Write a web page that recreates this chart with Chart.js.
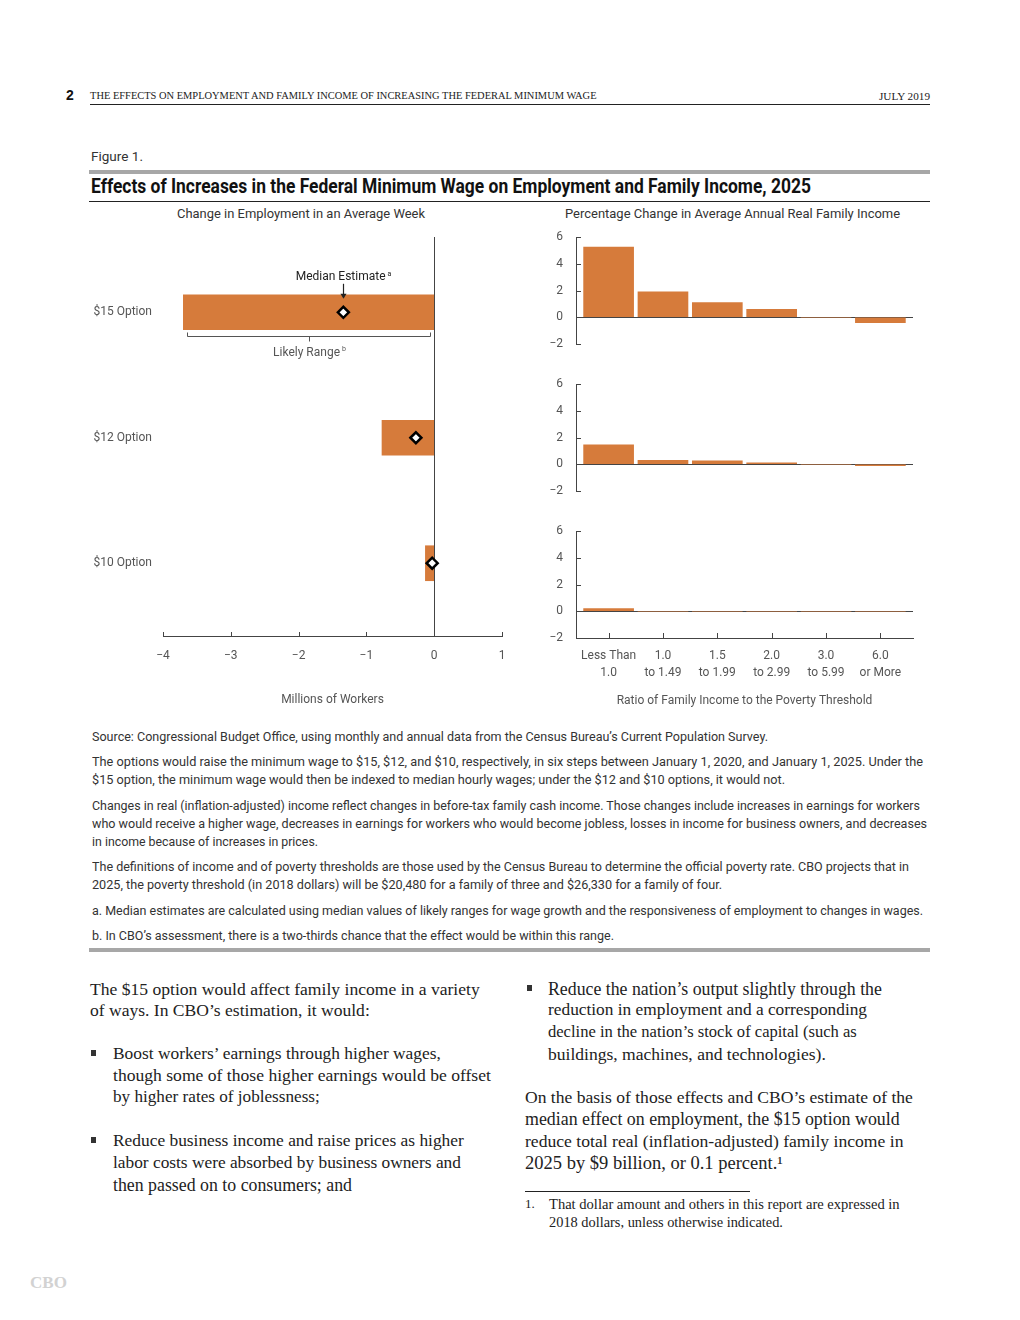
<!DOCTYPE html>
<html lang="en">
<head>
<meta charset="utf-8">
<title>Effects of Increases in the Federal Minimum Wage on Employment and Family Income, 2025</title>
<script src="https://cdn.jsdelivr.net/npm/chart.js@4.4.1/dist/chart.umd.min.js"></script>
<style>
  html, body { margin: 0; padding: 0; background: #fff; }
  body { position: relative; width: 1020px; height: 1320px; overflow: hidden; }
  .t { position: absolute; white-space: nowrap; }
  .bar { position: absolute; }
  canvas { position: absolute; }
  .pnum { font: bold 14px/18px 'Liberation Sans', Arial, sans-serif; color: #111; }
  .hdr { font: 10px/18px 'Liberation Serif', serif; color: #222; }
  .fig { font: 13px/18px 'Liberation Sans Narrow', Roboto, sans-serif; color: #333; }
  .ttl { font: bold 19.5px/24px 'Liberation Sans Narrow', Roboto, sans-serif; color: #111; }
  .sub { font: 12px/18px Roboto, sans-serif; color: #333; }
  .note { font: 12.5px/18px 'Liberation Sans Narrow', Roboto, sans-serif; color: #333; }
  .body { font: 16px/22px 'Liberation Serif', serif; color: #222; }
  .fn { font: 13px/18px 'Liberation Serif', serif; color: #222; }
  .logo { font: bold 18px/22px 'Liberation Serif', serif; color: #d2d2d2; }
</style>
</head>
<body>

<canvas id="empChart" width="440" height="490" style="left:80px;top:225px;width:440px;height:490px"></canvas>
<canvas id="inc15" width="400" height="125" style="left:530px;top:225px;width:400px;height:125px"></canvas>
<canvas id="inc12" width="400" height="125" style="left:530px;top:372px;width:400px;height:125px"></canvas>
<canvas id="inc10" width="400" height="200" style="left:530px;top:519px;width:400px;height:200px"></canvas>

<script>
// ---- data ----
const options = ['$15 Option', '$12 Option', '$10 Option'];
const rangeLow = [-3.7, -0.77, -0.13];     // likely range, millions of workers
const rangeHigh = [0, 0, 0];
const medianEstimate = [-1.34, -0.27, -0.03];
const empTicks = [-4, -3, -2, -1, 0, 1];

const incomeGroups = [['Less Than', '1.0'], ['1.0', 'to 1.49'], ['1.5', 'to 1.99'],
                      ['2.0', 'to 2.99'], ['3.0', 'to 5.99'], ['6.0', 'or More']];
const income15 = [5.25, 1.9, 1.1, 0.6, 0, -0.4];   // percent change
const income12 = [1.45, 0.3, 0.25, 0.1, 0, -0.1];
const income10 = [0.2, 0, 0, 0, 0, 0];
const incomeTicks = [-2, 0, 2, 4, 6];

const ORANGE = '#d67b3b';
const AXIS = '#444';
const TEXT = '#555';
const BAR_H = 35;

Chart.defaults.font.family = "Roboto, 'Liberation Sans', sans-serif";
Chart.defaults.font.size = 12;
Chart.defaults.color = TEXT;

function fmt(v) {
  return v < 0 ? '\u2212' + Math.abs(v) : String(v);
}

// keep the plot area exactly where layout.padding puts it
function noEdgePadding(s) {
  s.paddingTop = 0;
  s.paddingBottom = 0;
  s.paddingLeft = 0;
  s.paddingRight = 0;
}

// tick marks that point into the plot area
const innerTicks = {
  id: 'innerTicks',
  afterDraw(chart, args, opts) {
    const ctx = chart.ctx;
    ctx.save();
    ctx.strokeStyle = AXIS;
    ctx.lineWidth = 1;
    (opts.axes || []).forEach(id => {
      const s = chart.scales[id];
      s.ticks.forEach(t => {
        const p = Math.round(s.getPixelForValue(t.value)) + 0.5;
        ctx.beginPath();
        if (s.isHorizontal()) {
          ctx.moveTo(p, s.top);
          ctx.lineTo(p, s.top - opts.len);
        } else {
          ctx.moveTo(s.right, p);
          ctx.lineTo(s.right + opts.len, p);
        }
        ctx.stroke();
      });
    });
    ctx.restore();
  }
};

function drawSup(ctx, text, sup, cx, cy) {
  ctx.font = "12px Roboto, sans-serif";
  const w1 = ctx.measureText(text).width;
  ctx.font = "7px Roboto, sans-serif";
  const w2 = ctx.measureText(sup).width;
  const start = cx - (w1 + 2 + w2) / 2;
  ctx.textAlign = 'left';
  ctx.textBaseline = 'middle';
  ctx.font = "12px Roboto, sans-serif";
  ctx.fillText(text, start, cy);
  ctx.font = "7px Roboto, sans-serif";
  ctx.fillText(sup, start + w1 + 2, cy - 3);
}

// median label, arrow and likely range bracket on the $15 bar
const empNotes = {
  id: 'empNotes',
  afterDatasetsDraw(chart) {
    const { ctx, scales: { x, y } } = chart;
    const yc = y.getPixelForValue(0);
    const barTop = yc - BAR_H / 2;
    const barBot = yc + BAR_H / 2;
    const xm = Math.round(x.getPixelForValue(medianEstimate[0])) + 0.5;
    ctx.save();

    ctx.fillStyle = '#222';
    drawSup(ctx, 'Median Estimate', 'a', xm, barTop - 18);
    ctx.strokeStyle = '#222';
    ctx.lineWidth = 1.2;
    ctx.beginPath();
    ctx.moveTo(xm, barTop - 11);
    ctx.lineTo(xm, barTop);
    ctx.stroke();
    ctx.beginPath();
    ctx.moveTo(xm - 3, barTop - 1);
    ctx.lineTo(xm + 3, barTop - 1);
    ctx.lineTo(xm, barTop + 4);
    ctx.closePath();
    ctx.fill();

    const x0 = Math.round(x.getPixelForValue(rangeLow[0])) + 4.5;
    const x1 = Math.round(x.getPixelForValue(rangeHigh[0])) - 3.5;
    const yb = Math.round(barBot) + 6.5;
    const xmid = Math.round((x0 + x1) / 2) + 0.5;
    ctx.strokeStyle = TEXT;
    ctx.lineWidth = 1;
    ctx.beginPath();
    ctx.moveTo(x0, yb - 4); ctx.lineTo(x0, yb); ctx.lineTo(x1, yb); ctx.lineTo(x1, yb - 4);
    ctx.moveTo(xmid, yb); ctx.lineTo(xmid, yb + 5);
    ctx.stroke();
    ctx.fillStyle = TEXT;
    drawSup(ctx, 'Likely Range', 'b', xmid, yb + 16);
    ctx.restore();
  }
};

new Chart(document.getElementById('empChart'), {
  type: 'bar',
  data: {
    datasets: [
      {
        type: 'scatter',
        data: options.map((o, i) => ({ x: medianEstimate[i], y: i })),
        pointStyle: 'rectRot',
        pointRadius: 5.5,
        pointBackgroundColor: '#fff',
        pointBorderColor: '#000',
        pointBorderWidth: 2.5,
        order: 0
      },
      {
        data: options.map((o, i) => ({ x: [rangeLow[i], rangeHigh[i]], y: i })),
        backgroundColor: ORANGE,
        barThickness: BAR_H,
        order: 1
      }
    ]
  },
  options: {
    indexAxis: 'y',
    responsive: false,
    animation: false,
    events: [],
    layout: { padding: { top: 12, right: 18, left: 0, bottom: 0 } },
    plugins: { legend: { display: false }, tooltip: { enabled: false }, innerTicks: { axes: ['x'], len: 4 } },
    scales: {
      x: {
        type: 'linear', min: -4, max: 1, offset: false,
        afterBuildTicks: s => { s.ticks = empTicks.map(v => ({ value: v })); },
        afterFit: s => { s.height = 79; noEdgePadding(s); },
        grid: { drawTicks: false, color: c => (c.tick && c.tick.value === 0) ? AXIS : 'rgba(0,0,0,0)' },
        border: { color: AXIS },
        ticks: { padding: 13, autoSkip: false, maxRotation: 0, callback: v => fmt(v) },
        title: { display: true, text: 'Millions of Workers', padding: { top: 0, bottom: 8 } }
      },
      y: {
        type: 'linear', min: -0.6, max: 2.58, reverse: true, offset: false,
        afterBuildTicks: s => { s.ticks = options.map((o, i) => ({ value: i })); },
        afterFit: s => { s.width = 83; noEdgePadding(s); },
        grid: { display: false, drawTicks: false },
        border: { display: false },
        ticks: { padding: 11, autoSkip: false, callback: v => options[v] }
      }
    }
  },
  plugins: [empNotes, innerTicks]
});

function incomeChart(id, values, bottomAxis) {
  return new Chart(document.getElementById(id), {
    type: 'bar',
    data: {
      datasets: [{
        data: values.map((v, i) => ({ x: i, y: v })),
        backgroundColor: ORANGE,
        barThickness: 50
      }]
    },
    options: {
      responsive: false,
      animation: false,
      events: [],
      layout: { padding: { top: 12, right: 17, left: 0, bottom: bottomAxis ? 0 : 6 } },
      plugins: {
        legend: { display: false }, tooltip: { enabled: false },
        innerTicks: { axes: bottomAxis ? ['x', 'y'] : ['y'], len: 5 }
      },
      scales: {
        x: {
          type: 'linear', min: -0.6, max: 5.6, offset: false,
          display: bottomAxis,
          afterBuildTicks: s => { s.ticks = incomeGroups.map((g, i) => ({ value: i })); },
          afterFit: s => { if (bottomAxis) s.height = 81; noEdgePadding(s); },
          grid: { display: false, drawTicks: false },
          border: { color: AXIS },
          ticks: { padding: 9.5, autoSkip: false, maxRotation: 0, font: { lineHeight: 1.42 }, callback: v => incomeGroups[v] },
          title: { display: true, text: 'Ratio of Family Income to the Poverty Threshold', padding: { top: 0, bottom: 11 } }
        },
        y: {
          min: -2, max: 6,
          afterBuildTicks: s => { s.ticks = incomeTicks.map(v => ({ value: v })); },
          afterFit: s => { s.width = 46; noEdgePadding(s); },
          grid: { drawTicks: false, color: c => (c.tick && c.tick.value === 0) ? AXIS : 'rgba(0,0,0,0)' },
          border: { color: AXIS },
          ticks: { padding: 13, autoSkip: false, callback: v => fmt(v) }
        }
      }
    },
    plugins: [innerTicks]
  });
}

incomeChart('inc15', income15, false);
incomeChart('inc12', income12, false);
incomeChart('inc10', income10, true);

// ---- page text: [text, left, centre y, width to fit (0 = none), class] ----
const pageText = [
  ['2', 66, 95, 0, 'pnum'],
  ['THE EFFECTS ON EMPLOYMENT AND FAMILY INCOME OF INCREASING THE FEDERAL MINIMUM WAGE', 90, 96, 507, 'hdr'],
  ['JULY 2019', 879, 96, 51, 'hdr'],
  ['Figure 1.', 91, 157, 52, 'fig'],
  ['Effects of Increases in the Federal Minimum Wage on Employment and Family Income, 2025', 91, 187, 720, 'ttl'],
  ['Change in Employment in an Average Week', 177, 214, 248, 'sub'],
  ['Percentage Change in Average Annual Real Family Income', 565, 214, 335, 'sub'],

  ['Source: Congressional Budget Office, using monthly and annual data from the Census Bureau\u2019s Current Population Survey.', 92, 737, 676, 'note'],
  ['The options would raise the minimum wage to $15, $12, and $10, respectively, in six steps between January 1, 2020, and January 1, 2025. Under the', 92, 762, 831, 'note'],
  ['$15 option, the minimum wage would then be indexed to median hourly wages; under the $12 and $10 options, it would not.', 92, 780, 693, 'note'],
  ['Changes in real (inflation-adjusted) income reflect changes in before-tax family cash income. Those changes include increases in earnings for workers', 92, 806, 828, 'note'],
  ['who would receive a higher wage, decreases in earnings for workers who would become jobless, losses in income for business owners, and decreases', 92, 824, 835, 'note'],
  ['in income because of increases in prices.', 92, 842, 226, 'note'],
  ['The definitions of income and of poverty thresholds are those used by the Census Bureau to determine the official poverty rate. CBO projects that in', 92, 867, 817, 'note'],
  ['2025, the poverty threshold (in 2018 dollars) will be $20,480 for a family of three and $26,330 for a family of four.', 92, 885, 630, 'note'],
  ['a. Median estimates are calculated using median values of likely ranges for wage growth and the responsiveness of employment to changes in wages.', 92, 911, 831, 'note'],
  ['b. In CBO\u2019s assessment, there is a two-thirds chance that the effect would be within this range.', 92, 936, 522, 'note'],

  ['The $15 option would affect family income in a variety', 90, 989, 390, 'body'],
  ['of ways. In CBO\u2019s estimation, it would:', 90, 1010, 280, 'body'],
  ['Boost workers\u2019 earnings through higher wages,', 113, 1054, 328, 'body'],
  ['though some of those higher earnings would be offset', 113, 1075, 378, 'body'],
  ['by higher rates of joblessness;', 113, 1097, 207, 'body'],
  ['Reduce business income and raise prices as higher', 113, 1141, 351, 'body'],
  ['labor costs were absorbed by business owners and', 113, 1163, 348, 'body'],
  ['then passed on to consumers; and', 113, 1185, 239, 'body'],
  ['Reduce the nation\u2019s output slightly through the', 548, 989, 334, 'body'],
  ['reduction in employment and a corresponding', 548, 1010, 319, 'body'],
  ['decline in the nation\u2019s stock of capital (such as', 548, 1032, 309, 'body'],
  ['buildings, machines, and technologies).', 548, 1054, 278, 'body'],
  ['On the basis of those effects and CBO\u2019s estimate of the', 525, 1097, 388, 'body'],
  ['median effect on employment, the $15 option would', 525, 1119, 375, 'body'],
  ['reduce total real (inflation-adjusted) family income in', 525, 1141, 379, 'body'],
  ['2025 by $9 billion, or 0.1 percent.\u00b9', 525, 1163, 258, 'body'],
  ['1.', 525, 1204, 0, 'fn'],
  ['That dollar amount and others in this report are expressed in', 549, 1204, 351, 'fn'],
  ['2018 dollars, unless otherwise indicated.', 549, 1222, 234, 'fn'],
  ['CBO', 30, 1283, 37, 'logo']
];

// condensed type in the figure: keep the size, squeeze the width
const squeezed = ['ttl', 'note', 'fig'];

// rules and bullets: [left, top, width, height, colour]
const pageRules = [
  [90, 104, 840, 1, '#222'],
  [89, 170, 841, 4, '#a7a7a7'],
  [89, 201, 841, 1, '#222'],
  [89, 948, 841, 4, '#a7a7a7'],
  [525, 1191, 225, 1, '#222'],
  [91, 1050, 5, 6, '#333'],
  [91, 1137, 5, 6, '#333'],
  [527, 985, 5, 6, '#333']
];

pageRules.forEach(([l, t, w, h, c]) => {
  const d = document.createElement('div');
  d.className = 'bar';
  d.style.cssText = `left:${l}px;top:${t}px;width:${w}px;height:${h}px;background:${c}`;
  document.body.appendChild(d);
});

pageText.forEach(([text, left, cy, w, cls]) => {
  const s = document.createElement('span');
  s.className = 't ' + cls;
  s.textContent = text;
  document.body.appendChild(s);
  const lh = parseFloat(getComputedStyle(s).lineHeight);
  s.style.left = left + 'px';
  s.style.top = (cy - lh / 2) + 'px';
  if (w) {
    const cur = s.getBoundingClientRect().width;
    if (squeezed.includes(cls)) {
      s.style.transformOrigin = '0 50%';
      s.style.transform = `scaleX(${(w / cur).toFixed(4)})`;
    } else {
      const fs = parseFloat(getComputedStyle(s).fontSize);
      s.style.fontSize = (fs * w / cur).toFixed(2) + 'px';
    }
  }
});
</script>
</body>
</html>
